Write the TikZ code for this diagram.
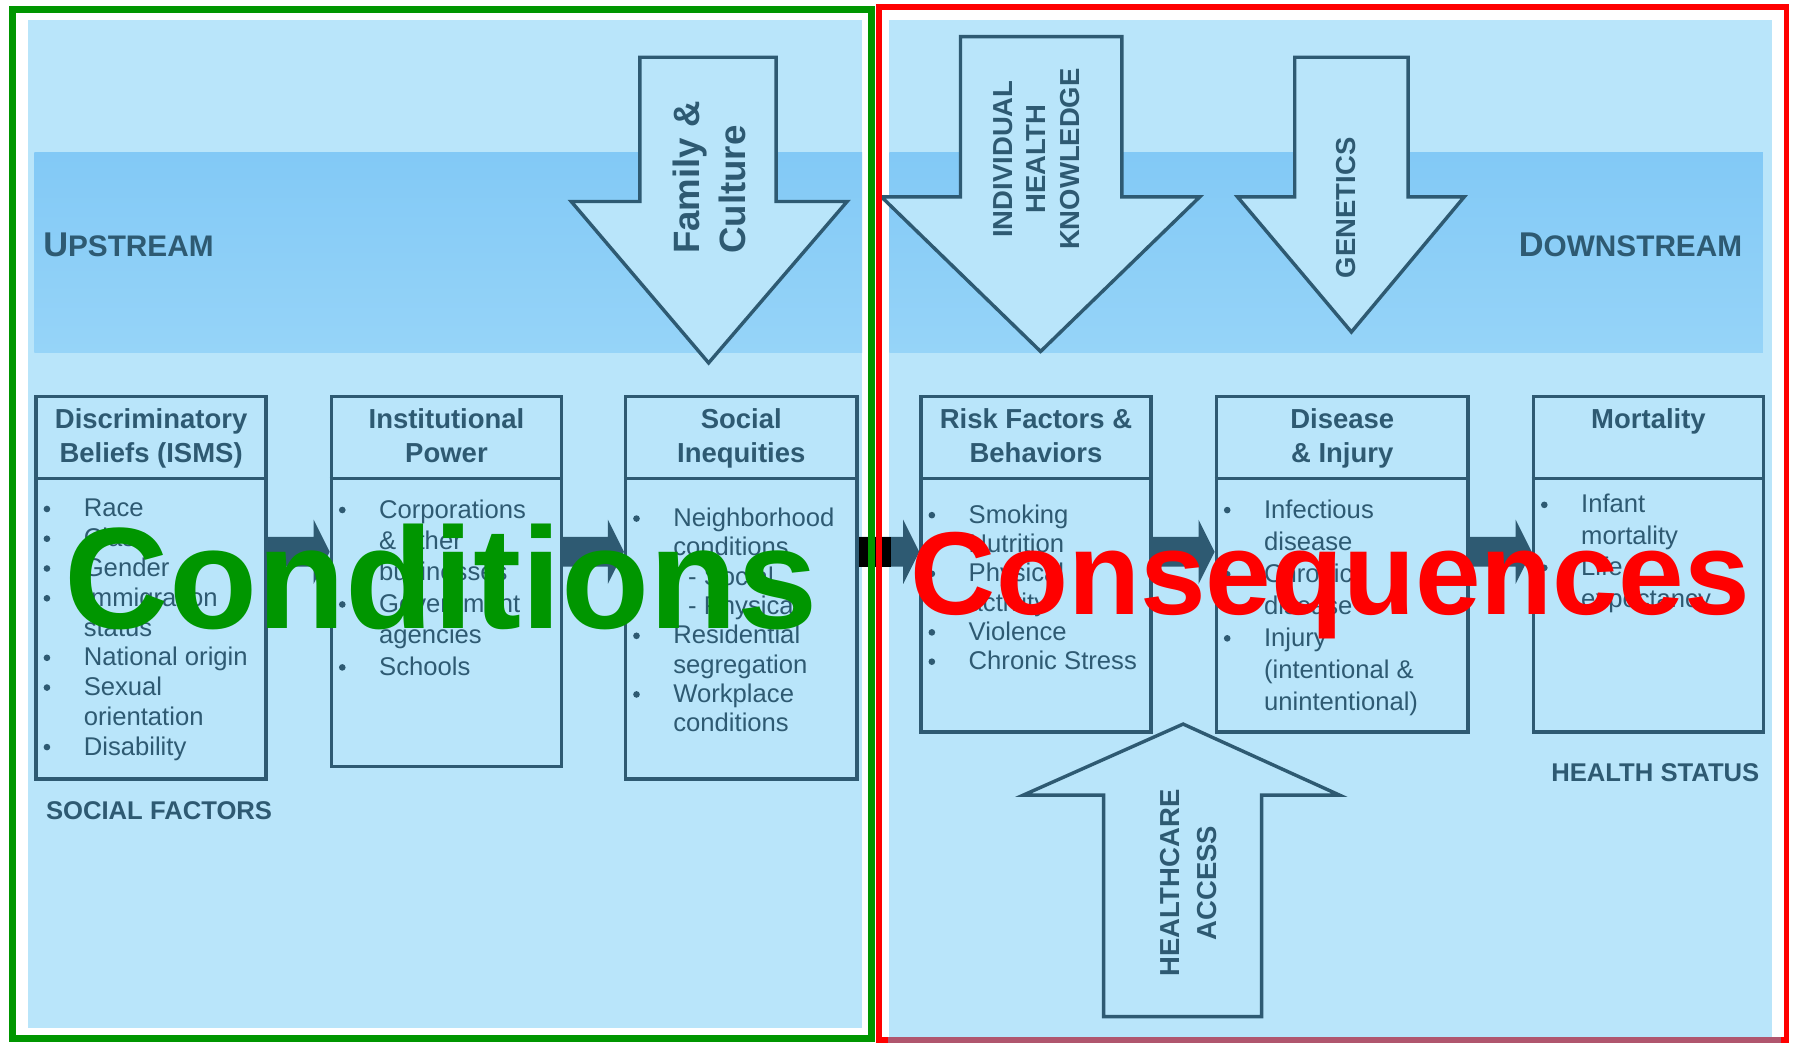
\documentclass[tikz,border=0pt]{standalone}
\usepackage{fontspec}
\setmainfont{Liberation Sans}
\usepackage{tikz}
\usetikzlibrary{calc}
\definecolor{ink}{HTML}{2E5A72}
\definecolor{sky}{HTML}{B9E5FA}
\definecolor{bandtop}{HTML}{82C9F6}
\definecolor{bandbot}{HTML}{96D4F8}
\definecolor{condgreen}{HTML}{009600}
\definecolor{mauve}{HTML}{B0566E}
\tikzset{
    panel/.style={fill=sky},
    band/.style={top color=bandtop, bottom color=bandbot},
    stage/.style={draw=ink, line width=3pt, rectangle, inner sep=0pt, anchor=north west},
    heading/.style={text=ink, font=\bfseries\fontsize{24}{24}\selectfont, inner sep=0pt, anchor=base},
    item/.style={text=ink, font=\fontsize{22.4}{22.4}\selectfont, inner sep=0pt, anchor=base west},
    bigarrow/.style={draw=ink, fill=sky, line width=3pt},
    arrowtext/.style={text=ink, font=\bfseries\fontsize{24}{29}\selectfont, rotate=90, align=center, inner sep=0pt},
    link/.style={fill=ink},
    stream/.style={text=ink, font=\bfseries, inner sep=0pt},
    factor/.style={text=ink, font=\bfseries\fontsize{22.4}{22.4}\selectfont, inner sep=0pt},
    bigword/.style={font=\bfseries\fontsize{#1}{#1}\selectfont, inner sep=0pt, anchor=base west},
    cframe/.style={draw=condgreen, line width=6pt},
    qframe/.style={draw=red, line width=5pt},
}

\begin{document}
\begin{tikzpicture}[x=1pt, y=1pt]
    \useasboundingbox (0,0) rectangle (1568,-911);
    \fill[white] (0,0) rectangle (1568,-911);
    \fill[panel] (24.5,-17.5) rectangle (753,-898);
    \fill[panel] (777,-17.5) rectangle (1548,-906);
    \path[band] (30,-133) rectangle (753,-308);
    \path[band] (777,-133) rectangle (1540,-308);
    % downward influences
    \draw[bigarrow] (559,-50) -- (678,-50) -- (678,-176) -- (740,-176) -- (619,-317) -- (499,-176) -- (559,-176) -- cycle;
    \draw[bigarrow] (839,-32) -- (980,-32) -- (980,-172) -- (1048,-172) -- (909,-307) -- (770,-172) -- (839,-172) -- cycle;
    \draw[bigarrow] (1131,-50) -- (1230,-50) -- (1230,-172) -- (1279,-172) -- (1180.5,-290) -- (1081,-172) -- (1131,-172) -- cycle;
    \node[arrowtext, align=left, font=\bfseries\fontsize{32}{40}\selectfont] (family) at (620,-155) {Family \&\\Culture};
    \node[arrowtext] (knowledge) at (905.5,-139) {INDIVIDUAL\\HEALTH\\KNOWLEDGE};
    \node[arrowtext] (genetics) at (1175.5,-181.5) {GENETICS};
    \node[stream, anchor=base west] (up) at (37.6,-224)
        {{\fontsize{30}{30}\selectfont U}{\fontsize{26}{26}\selectfont PSTREAM}};
    \node[stream, anchor=base east] (down) at (1522,-224)
        {{\fontsize{30}{30}\selectfont D}{\fontsize{26}{26}\selectfont OWNSTREAM}};
    % stages
    \foreach \n/\bx/\w/\h in {b1/30/201/334, b2/288/201/323, b3/545/202/334, b4/803/201/293, b5/1061/220/293, b6/1338/201/293} {
        \node[stage, minimum width=\w pt, minimum height=\h pt] (\n) at (\bx,-345) {};
        \draw[ink, line width=2.5pt] (\n.west |- 0,-418) -- (\n.east |- 0,-418);
    }
    \foreach \n/\hda/\hdb in {b1/Discriminatory/Beliefs (ISMS), b2/Institutional/Power, b3/Social/Inequities,
            b4/Risk Factors \&/Behaviors, b5/Disease/\& Injury} {
        \node[heading] (\n-top) at (\n.north |- 0,-374) {\hda};
        \node[heading] (\n-bot) at (\n.north |- 0,-403.6) {\hdb};
    }
    \node[heading] (b6-top) at (b6.north |- 0,-374) {Mortality};
    \foreach \n/\bx/\by/\dy/\lines in {
            b1/30/451.6/26/{1/Race,1/Class,1/Gender,1/Immigration,0/status,1/National origin,1/Sexual,0/orientation,1/Disability},
            b2/288/452.5/27.5/{1/Corporations,0/\& other,0/businesses,1/Government,0/agencies,1/Schools},
            b3/545/460/25.6/{1/Neighborhood,0/conditions,0/\hspace{13pt}- Social,0/\hspace{13pt}- Physical,1/Residential,0/segregation,1/Workplace,0/conditions},
            b4/803/457/25.6/{1/Smoking,1/Nutrition,1/Physical,0/activity,1/Violence,1/Chronic Stress},
            b5/1061/452.6/28/{1/Infectious,0/disease,1/Chronic,0/disease,1/Injury,0/(intentional \&,0/unintentional)},
            b6/1338/448/27.5/{1/Infant,0/mortality,1/Life,0/expectancy}} {
        \foreach \bul/\txt [count=\i] in \lines {
            \pgfmathsetmacro\yy{\by+(\i-1)*\dy}
            \node[item] (\n-\i) at (\bx+43,-\yy) {\txt};
            \ifnum\bul=1 \fill[ink] (\bx+11,-\yy+7) circle (2.9); \fi
        }
    }
    \node[factor, anchor=base west] (social) at (40,-715.6) {SOCIAL FACTORS};
    \node[factor, anchor=base east] (status) at (1537,-683) {HEALTH STATUS};
    % links between stages
    \foreach \src/\dst in {b1/b2, b2/b3, b3/b4, b4/b5, b5/b6}
        \fill[link] (\src.east |- 0,-469) -- ($(\dst.west |- 0,-469)+(-14,0)$) -- ($(\dst.west |- 0,-454)+(-14,0)$)
            -- (\dst.west |- 0,-482) -- ($(\dst.west |- 0,-510)+(-14,0)$) -- ($(\dst.west |- 0,-495)+(-14,0)$)
            -- (\src.east |- 0,-495) -- cycle;
    \fill[black] (b3.east |- 0,-469) rectangle (778,-495);
    % upward influence
    \draw[bigarrow] (964,-888) -- (1102,-888) -- (1102,-694.5) -- (1170,-694.5) -- (1033.5,-632.5) -- (894,-694.5) -- (964,-694.5) -- cycle;
    \node[arrowtext, font=\bfseries\fontsize{24}{32}\selectfont] (access) at (1038,-771.5) {HEALTHCARE\\ACCESS};
    % frames
    \draw[cframe] (11,-8.5) rectangle (761,-907);
    \draw[qframe] (768,-6) rectangle (1560.5,-908.5);
    \draw[mauve, line width=5pt] (776,-908.5) -- (1556,-908.5);
    \node[bigword=126, text=condgreen] (cond) at (56.5,-549) {Conditions};
    \node[bigword=103, text=red] (cons) at (795.5,-537) {Consequences};
\end{tikzpicture}
\end{document}
